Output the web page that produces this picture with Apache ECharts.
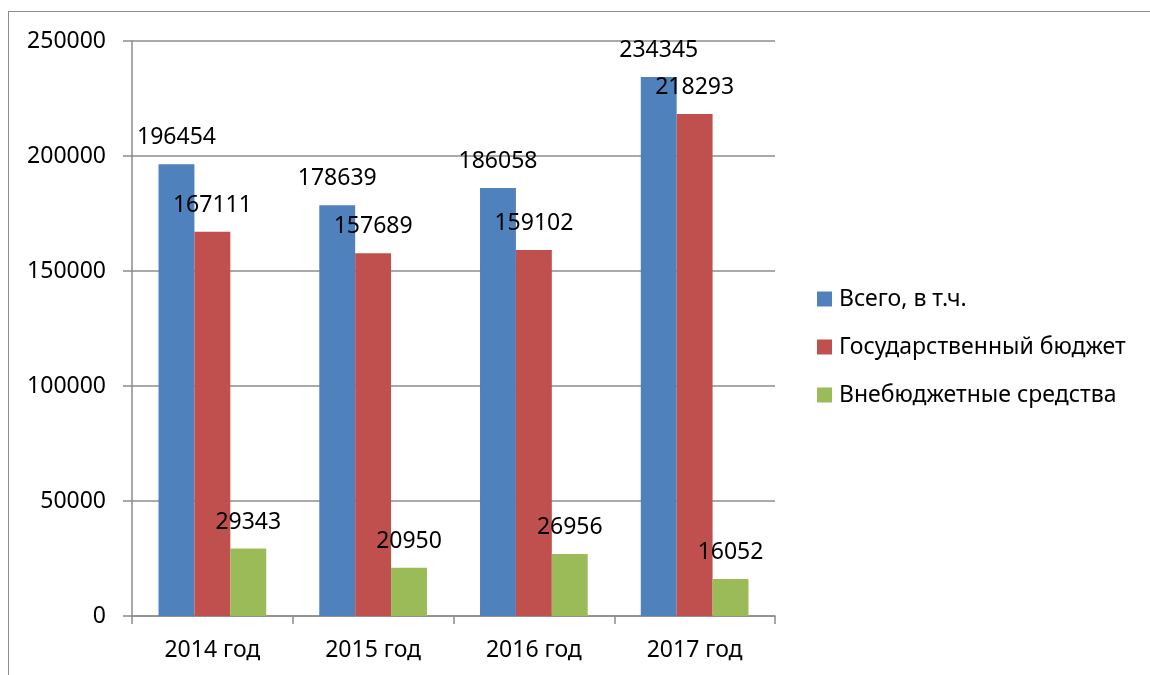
<!DOCTYPE html>
<html>
<head>
<meta charset="utf-8">
<script src="https://cdn.jsdelivr.net/npm/echarts@6/dist/echarts.min.js"></script>
<style>
  html, body { margin: 0; padding: 0; background: #fff; }
  #wrap { position: relative; width: 1150px; height: 675px; overflow: hidden; }
  #frame { position: absolute; left: 8px; top: 11px; right: -2px; bottom: -2px;
           border-left: 1.5px solid #8c8c8c; border-top: 1.5px solid #8c8c8c; }
  #chart { position: absolute; left: 0; top: 0; width: 1150px; height: 675px; }
</style>
</head>
<body>
<div id="wrap">
  <div id="frame"></div>
  <div id="chart"></div>
</div>
<script>
const categories = ['2014 год', '2015 год', '2016 год', '2017 год'];
const seriesNames = ['Всего, в т.ч.', 'Государственный бюджет', 'Внебюджетные средства'];
const totalValues = [196454, 178639, 186058, 234345];
const budgetValues = [167111, 157689, 159102, 218293];
const extraValues = [29343, 20950, 26956, 16052];
const yTicks = { min: 0, max: 250000, interval: 50000 };

const colors = ['#4F81BD', '#C0504D', '#9BBB59'];
const font = '"Noto Sans", "DejaVu Sans", sans-serif';
const gridColor = '#8c8c8c';

function mkSeries(name, data, color) {
  return {
    name: name,
    type: 'bar',
    data: data,
    barGap: '0%',
    barCategoryGap: '33%',
    itemStyle: { color: color },
    label: {
      show: true,
      position: 'top',
      distance: 15,
      color: '#000',
      fontFamily: font,
      fontSize: 23,
      lineHeight: 23
    }
  };
}

const chart = echarts.init(document.getElementById('chart'), null, { renderer: 'canvas' });
chart.setOption({
  animation: false,
  backgroundColor: 'transparent',
  grid: { left: 132, top: 41, right: 375, bottom: 59, containLabel: false },
  legend: {
    orient: 'vertical',
    left: 817,
    top: 287,
    padding: 0,
    itemWidth: 15,
    itemHeight: 15,
    itemGap: 24,
    icon: 'rect',
    data: seriesNames,
    textStyle: { fontFamily: font, fontSize: 23, lineHeight: 24, color: '#000', padding: [0, 0, 0, 2] }
  },
  xAxis: {
    type: 'category',
    data: categories,
    axisLine: { show: true, lineStyle: { color: gridColor, width: 1.5 } },
    axisTick: { show: true, length: 8, alignWithLabel: false, lineStyle: { color: gridColor, width: 1.5 } },
    axisLabel: { color: '#000', fontFamily: font, fontSize: 23, lineHeight: 23, margin: 23 },
    splitLine: { show: false }
  },
  yAxis: {
    type: 'value',
    min: yTicks.min,
    max: yTicks.max,
    interval: yTicks.interval,
    axisLine: { show: true, lineStyle: { color: gridColor, width: 1.5 } },
    axisTick: { show: true, length: 9, lineStyle: { color: gridColor, width: 1.5 } },
    axisLabel: { color: '#000', fontFamily: font, fontSize: 23, margin: 26, formatter: function (v) { return String(v); } },
    splitLine: { show: true, lineStyle: { color: gridColor, width: 1.5 } }
  },
  series: [
    mkSeries(seriesNames[0], totalValues, colors[0]),
    mkSeries(seriesNames[1], budgetValues, colors[1]),
    mkSeries(seriesNames[2], extraValues, colors[2])
  ]
});
</script>
</body>
</html>
